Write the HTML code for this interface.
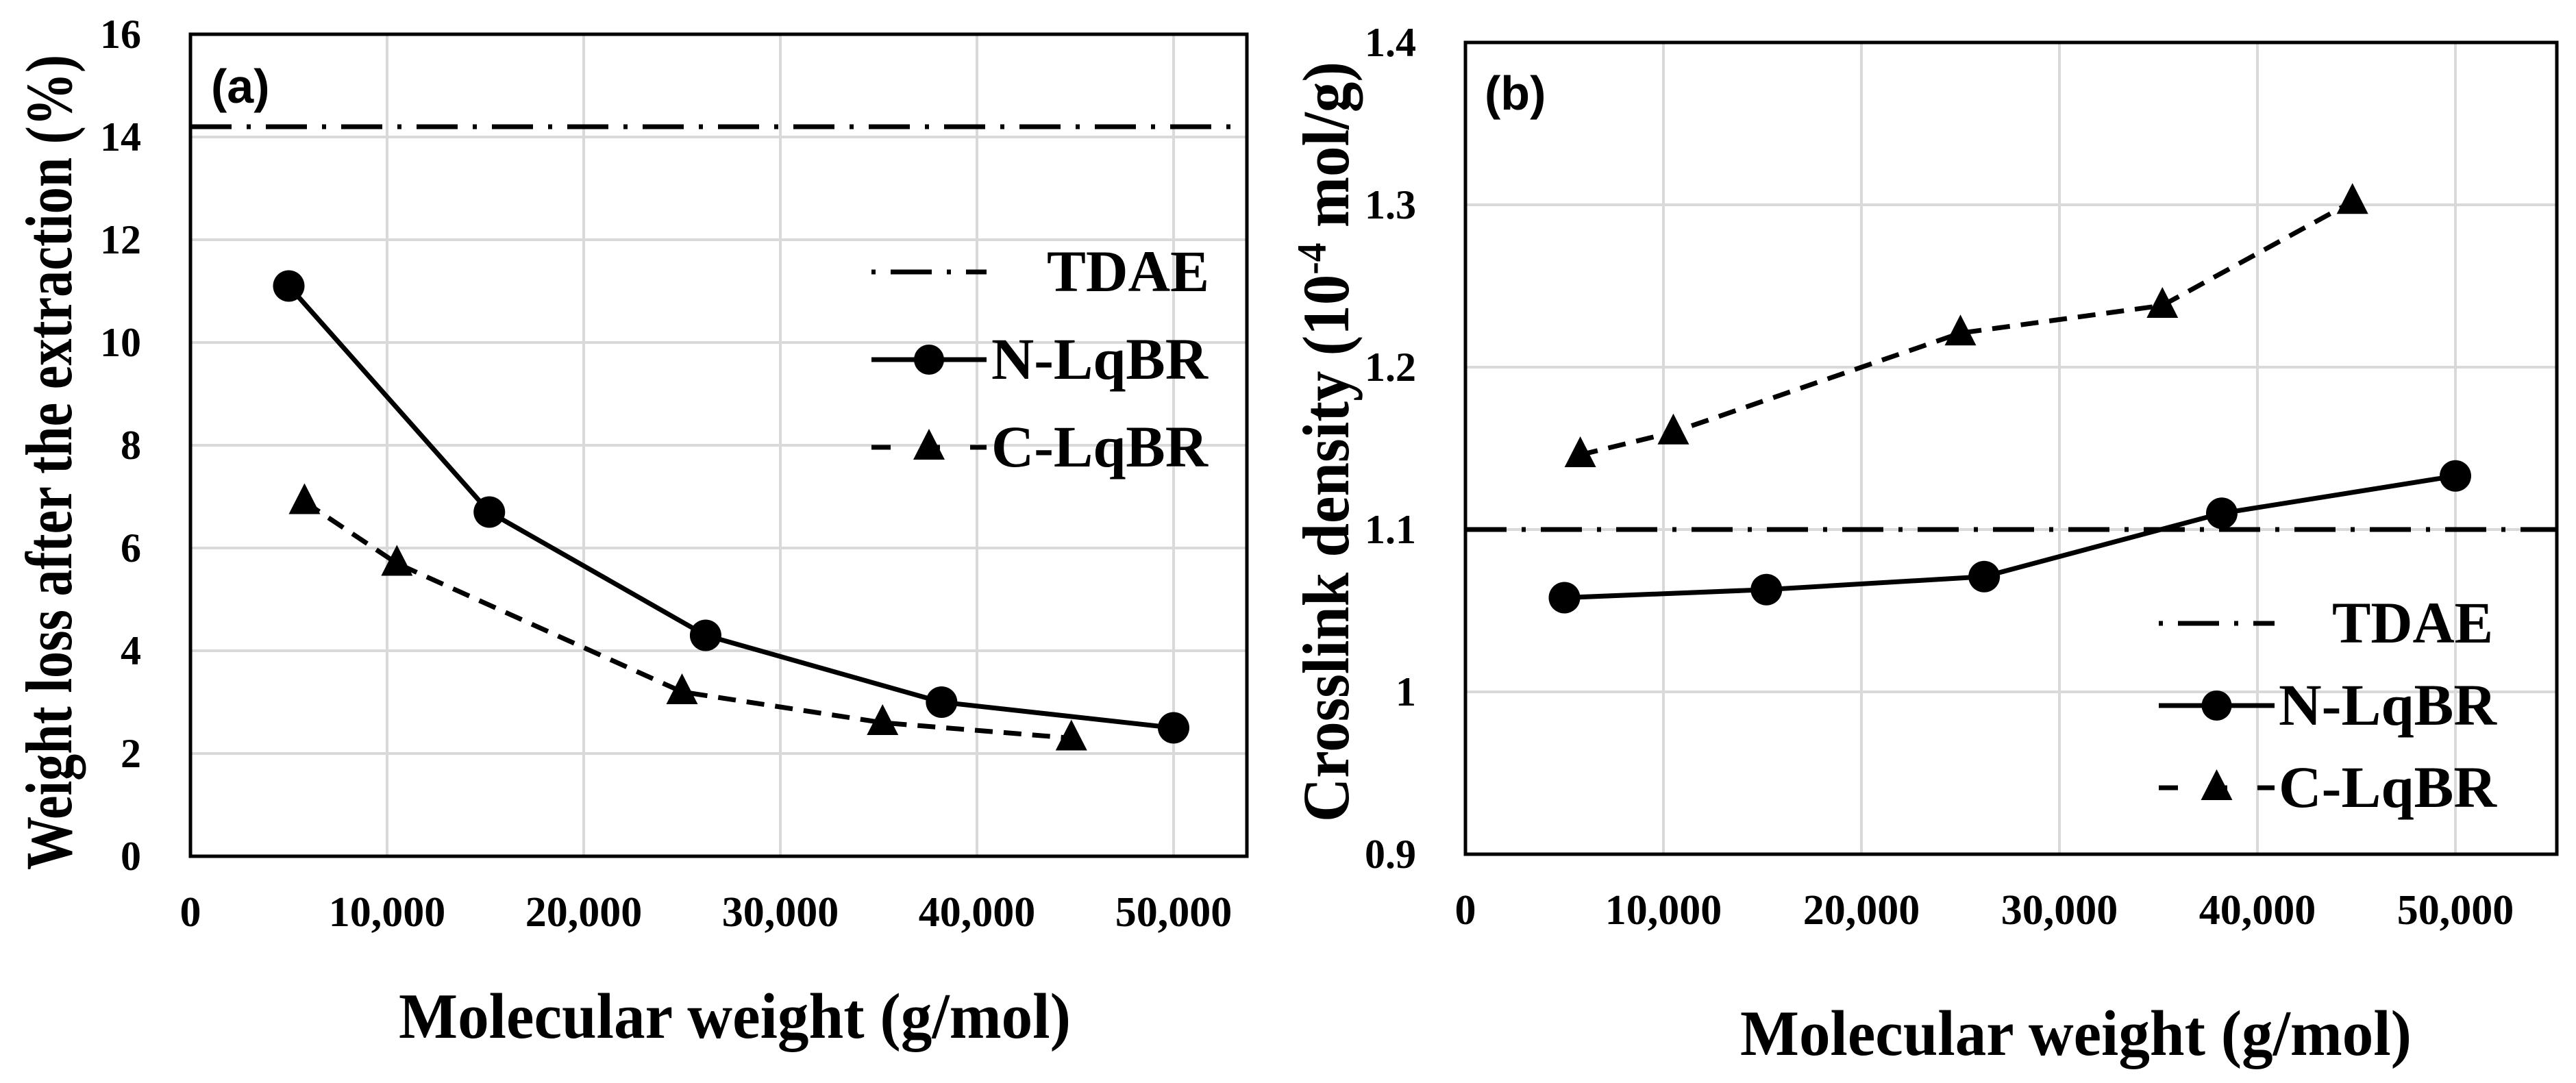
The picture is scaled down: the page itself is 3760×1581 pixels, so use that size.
<!DOCTYPE html>
<html><head><meta charset="utf-8">
<style>
html,body{margin:0;padding:0;background:#fff;}
svg{display:block;}
text{font-family:"Liberation Serif",serif;font-weight:bold;fill:#000;}
.sans{font-family:"Liberation Sans",sans-serif;}
</style></head>
<body>
<svg id="fig" width="3760" height="1581" viewBox="0 0 3760 1581" xmlns="http://www.w3.org/2000/svg"></svg>
<script>
// ---- data ----
const xTicks = [0, 10000, 20000, 30000, 40000, 50000];
const xTickLabels = ["0", "10,000", "20,000", "30,000", "40,000", "50,000"];
// panel (a)
const aYTicks = [0, 2, 4, 6, 8, 10, 12, 14, 16];
const aYTickLabels = ["0", "2", "4", "6", "8", "10", "12", "14", "16"];
const aNx = [5000, 15200, 26200, 38200, 50000];
const aNy = [11.1, 6.7, 4.3, 3.0, 2.5];
const aCx = [5800, 10500, 25000, 35200, 44800];
const aCy = [6.9, 5.7, 3.2, 2.6, 2.3];
const aTDAE = 14.2;
// panel (b)
const bYTicks = [0.9, 1.0, 1.1, 1.2, 1.3, 1.4];
const bYTickLabels = ["0.9", "1", "1.1", "1.2", "1.3", "1.4"];
const bNx = [5000, 15200, 26200, 38200, 50000];
const bNy = [1.058, 1.063, 1.071, 1.110, 1.133];
const bCx = [5800, 10500, 25000, 35200, 44800];
const bCy = [1.146, 1.160, 1.221, 1.238, 1.302];
const bTDAE = 1.1;

const NS = "http://www.w3.org/2000/svg";
const svg = document.getElementById("fig");
function mk(tag, attrs, parent) {
  const e = document.createElementNS(NS, tag);
  for (const k in attrs) e.setAttribute(k, attrs[k]);
  (parent || svg).appendChild(e);
  return e;
}
const DASHDOT = "60,22,6,22";
const DASH = "26,16";
const LW = 7;

function panel(cfg) {
  const g = mk("g", {});
  
  
  const X = v => cfg.x0 + (v / 10000) * cfg.pxPer10k;
  const Y = v => cfg.yBot - (v - cfg.yMin) / (cfg.yMax - cfg.yMin) * (cfg.yBot - cfg.yTop);
  xTicks.forEach(t => {
    if (t === 0) return;
    const l = mk("line", {x1: X(t), x2: X(t), y1: cfg.yTop, y2: cfg.yBot, stroke: "#d9d9d9", "stroke-width": 4}, g);
    
    
  });
  cfg.yTicks.forEach(t => {
    const l = mk("line", {x1: cfg.x0, x2: cfg.xRight, y1: Y(t), y2: Y(t), stroke: "#d9d9d9", "stroke-width": 4}, g);
    
    
  });
  const fr = mk("rect", {x: cfg.x0, y: cfg.yTop, width: cfg.xRight - cfg.x0, height: cfg.yBot - cfg.yTop, fill: "none", stroke: "#000", "stroke-width": 5}, g);
  
  
  xTicks.forEach((t, i) => {
    const tx = mk("text", {x: X(t), y: cfg.yBot + 102, "font-size": 62, "text-anchor": "middle"}, g);
    tx.textContent = xTickLabels[i];
    
    
  });
  cfg.yTicks.forEach((t, i) => {
    const tx = mk("text", {x: cfg.x0 - 72, y: Y(t) + 20, "font-size": 60, "text-anchor": "end"}, g);
    tx.textContent = cfg.yTickLabels[i];
    
    
  });
  const td = mk("line", {x1: cfg.x0, x2: cfg.xRight, y1: Y(cfg.tdae), y2: Y(cfg.tdae), stroke: "#000", "stroke-width": LW, "stroke-dasharray": DASHDOT}, g);
  
  
  const cp = mk("polyline", {points: cfg.cx.map((v, i) => X(v) + "," + Y(cfg.cy[i])).join(" "), fill: "none", stroke: "#000", "stroke-width": LW, "stroke-dasharray": DASH}, g);
  
  
  cfg.cx.forEach((v, i) => {
    const px = X(v), py = Y(cfg.cy[i]);
    const m = mk("polygon", {points: `${px},${py - 27} ${px - 23},${py + 18} ${px + 23},${py + 18}`, fill: "#000"}, g);
    
    
  });
  const np = mk("polyline", {points: cfg.nx.map((v, i) => X(v) + "," + Y(cfg.ny[i])).join(" "), fill: "none", stroke: "#000", "stroke-width": LW}, g);
  
  
  cfg.nx.forEach((v, i) => {
    const m = mk("circle", {cx: X(v), cy: Y(cfg.ny[i]), r: 23, fill: "#000"}, g);
    
    
  });
  const pl = mk("text", {x: cfg.labX, y: cfg.labY, "font-size": 70, class: "sans"}, g);
  pl.textContent = cfg.label;
  
  
  const xt = mk("text", {x: cfg.xtX, y: cfg.xtY, "font-size": 94, textLength: cfg.xtLen, lengthAdjust: "spacingAndGlyphs"}, g);
  xt.textContent = "Molecular weight  (g/mol)";
  
  
  const yt = mk("text", {x: 0, y: 0, "font-size": 96, "text-anchor": "middle", textLength: cfg.ytLen, lengthAdjust: "spacingAndGlyphs", transform: `translate(${cfg.ytX},${cfg.ytY}) rotate(-90)`}, g);
  yt.innerHTML = cfg.ytText;
  
  
  const lg = mk("g", {}, g);
  
  
  const L = cfg.leg;
  const rows = [["TDAE", "6,22,60,22", null], ["N-LqBR", null, "circle"], ["C-LqBR", "28,44", "tri"]];
  rows.forEach((r, i) => {
    const y = L.y0 + i * L.dy;
    const ln = mk("line", {x1: L.x1, x2: L.x2, y1: y, y2: y, stroke: "#000", "stroke-width": LW}, lg);
    if (r[1]) ln.setAttribute("stroke-dasharray", r[1]);
    
    
    const mx = (L.x1 + L.x2) / 2;
    if (r[2] === "circle") {
      const c = mk("circle", {cx: mx, cy: y, r: 22, fill: "#000"}, lg);
      
      
    } else if (r[2] === "tri") {
      const c = mk("polygon", {points: `${mx},${y - 27} ${mx - 23},${y + 18} ${mx + 23},${y + 18}`, fill: "#000"}, lg);
      
      
    }
    const tx = mk("text", {x: i === 0 ? L.tdaeX : L.tx, y: y + 28, "font-size": 86, textLength: i === 0 ? L.tdaeLen : L.tLen, lengthAdjust: "spacingAndGlyphs"}, lg);
    tx.textContent = r[0];
    
    
  });
}

panel({name: "panel-a", x0: 278, pxPer10k: 287, xRight: 1820, yTop: 50, yBot: 1250, yMin: 0, yMax: 16,
  yTicks: aYTicks, yTickLabels: aYTickLabels, nx: aNx, ny: aNy, cx: aCx, cy: aCy, tdae: aTDAE,
  label: "(a)", labX: 308, labY: 150, xtX: 582, xtY: 1515, xtLen: 981,
  ytX: 104, ytY: 675, ytLen: 1190, ytText: "Weight loss after the extraction (%)",
  leg: {x1: 1272, x2: 1440, y0: 397, dy: 128, tx: 1447, tLen: 316, tdaeX: 1528, tdaeLen: 237}});

panel({name: "panel-b", x0: 2139, pxPer10k: 289, xRight: 3732, yTop: 62, yBot: 1247, yMin: 0.9, yMax: 1.4,
  yTicks: bYTicks, yTickLabels: bYTickLabels, nx: bNx, ny: bNy, cx: bCx, cy: bCy, tdae: bTDAE,
  label: "(b)", labX: 2167, labY: 160, xtX: 2540, xtY: 1540, xtLen: 980,
  ytX: 1968, ytY: 645, ytLen: 1110, ytText: "Crosslink  density  (10<tspan baseline-shift=\"super\" font-size=\"60\">-4</tspan> mol/g)",
  leg: {x1: 3151, x2: 3320, y0: 910, dy: 120, tx: 3326, tLen: 318, tdaeX: 3404, tdaeLen: 235}});
</script>
</body></html>
